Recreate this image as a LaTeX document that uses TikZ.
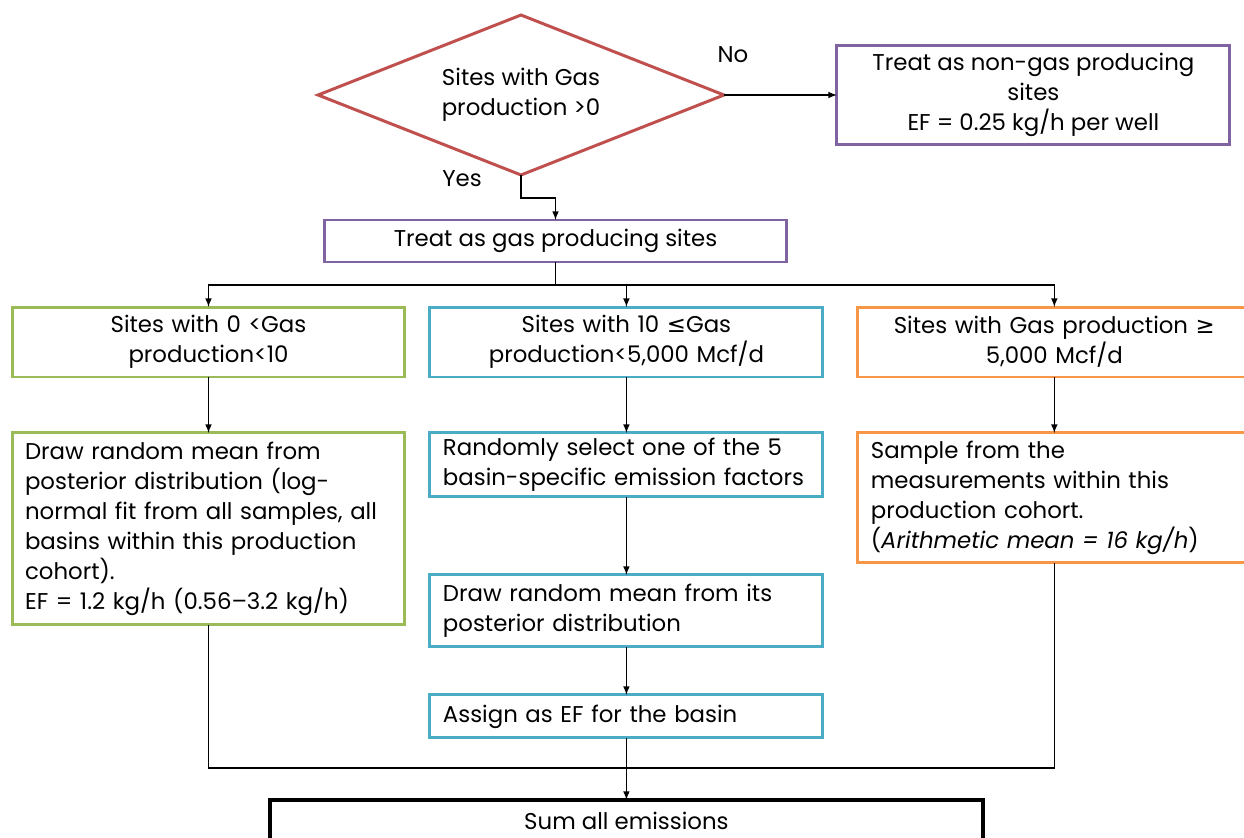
\documentclass[tikz,border=0pt]{standalone}
\usepackage{fontspec}
\setmainfont{Poppins}
\newfontfamily\symfont{DejaVu Sans}
\usetikzlibrary{arrows}
\usetikzlibrary{positioning}
\usetikzlibrary{shapes.geometric}
\definecolor{decred}{HTML}{C0504D}
\definecolor{treatpurple}{HTML}{8064A2}
\definecolor{lowgreen}{HTML}{9BBB59}
\definecolor{midblue}{HTML}{4BACC6}
\definecolor{highorange}{HTML}{F79646}

\begin{document}
\begin{tikzpicture}[x=0.02cm, y=-0.02cm, >=latex,
      every node/.style={font=\fontsize{13}{17}\selectfont},
      box/.style={draw, rectangle, line width=1.7pt, outer sep=0pt, inner xsep=0.26cm, inner ysep=0.05cm},
      cbox/.style={box, text width=7.34cm, align=center, minimum height=1.4cm},
      lbox/.style={box, text width=7.34cm, align=left},
      link/.style={line width=0.7pt}]
    \useasboundingbox (0,0) rectangle (1244,838);
    \clip (0,0) rectangle (1244,838);

    \node [diamond, draw=decred, line width=1.7pt, aspect=2.54, inner sep=0, outer sep=0pt,
      minimum width=8.12cm, minimum height=3.2cm, align=center] (dia) at (521,95)
      {Sites with Gas\\ production >0};
    \node [box, draw=treatpurple, minimum width=7.86cm, minimum height=2cm, align=center,
      right=2.26cm of dia] (nongas)
      {Treat as non-gas producing\\ sites\\ EF = 0.25 kg/h per well};
    \node (no) at (733,55) {No};
    \node (yes) at (462,179) {Yes};

    \node [box, draw=treatpurple, minimum width=9.26cm, minimum height=0.84cm] (gas) at (555.5,241)
      {Treat as gas producing sites};

    \node [cbox, draw=lowgreen] (low) at (208.5,342)
      {Sites with 0 <Gas\\ production<10};
    \node [cbox, draw=midblue, right=0.5cm of low] (mid)
      {Sites with 10 {\symfont ≤}Gas\\ production<5,000 Mcf/d};
    \node [cbox, draw=highorange, right=0.7cm of mid] (high)
      {Sites with Gas production {\symfont ≥}\\ 5,000 Mcf/d};

    \node [lbox, draw=lowgreen, minimum height=3.84cm, below=1.12cm of low] (lowdraw)
      {Draw random mean from\\ posterior distribution (log-\\ normal fit from all samples, all\\
       basins within this production\\ cohort).\\ EF = 1.2 kg/h (0.56--3.2 kg/h)};
    \node [lbox, draw=midblue, minimum height=1.28cm, below=1.12cm of mid] (midselect)
      {Randomly select one of the 5\\ basin-specific emission factors};
    \node [lbox, draw=midblue, minimum height=1.44cm, below=1.56cm of midselect] (middraw)
      {Draw random mean from its\\ posterior distribution};
    \node [lbox, draw=midblue, minimum height=0.86cm, below=0.96cm of middraw] (midassign)
      {Assign as EF for the basin};
    \node [lbox, draw=highorange, minimum height=2.6cm, below=1.12cm of high] (highsample)
      {Sample from the\\ measurements within this\\ production cohort.\\
       (\textit{Arithmetic mean = 16 kg/h})};

    \node [box, draw=black, line width=2.3pt, minimum width=14.26cm, minimum height=0.84cm,
      below=1.24cm of midassign] (sum) {Sum all emissions};

    \path (gas.south) ++(0,23) coordinate (split);
    \path (midassign.south) ++(0,30) coordinate (merge);

    \draw [link, ->] (dia.east) -- (dia.east -| nongas.west);
    \draw [link, ->] (dia.south) -- ++(0,23) -| (gas.north);
    \draw [link, ->] (gas.south) -- (split) -| (low.north);
    \draw [link, ->] (split) -| (mid.north);
    \draw [link, ->] (split) -| (high.north);
    \draw [link, ->] (low) -- (lowdraw);
    \draw [link, ->] (mid) -- (midselect);
    \draw [link, ->] (midselect) -- (middraw);
    \draw [link, ->] (middraw) -- (midassign);
    \draw [link, ->] (high) -- (highsample);
    \draw [link] (lowdraw.south) |- (merge) -| (highsample.south);
    \draw [link, ->] (midassign.south) -- (sum.north);
\end{tikzpicture}
\end{document}
